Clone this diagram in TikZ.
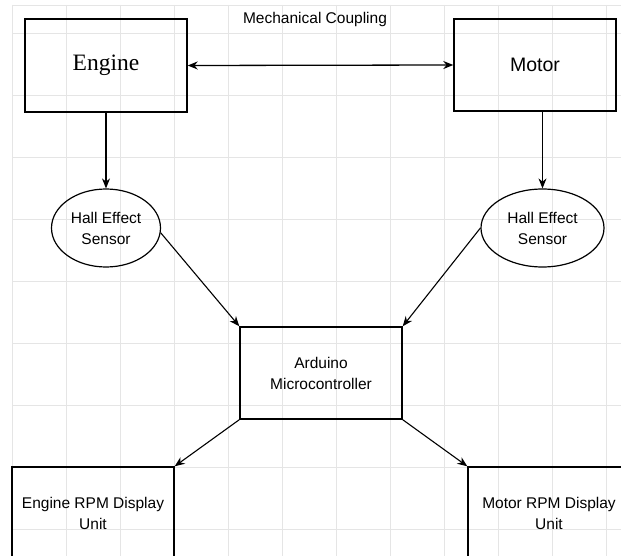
\documentclass[tikz,border=0pt]{standalone}
\usepackage{fontspec}
\setmainfont{Liberation Sans}
\newfontfamily\serifnf{Liberation Serif}
\usetikzlibrary{arrows.meta,shapes.geometric}
\begin{document}
\begin{tikzpicture}[x=1pt,y=-1pt,
  box/.style={draw=black,line width=1.4pt,minimum width=162pt,minimum height=93pt,inner sep=0pt,align=center,font=\fontsize{15.5}{21}\selectfont},
  sensor/.style={ellipse,draw=black,line width=1.2pt,minimum height=78pt,inner sep=0pt,align=center,font=\fontsize{15.5}{21}\selectfont},
  conn/.style={draw=black,line width=1.1pt,-{Stealth[length=10pt,width=8pt]}},
  biconn/.style={draw=black,line width=1.3pt,{Stealth[length=10pt,width=8pt]}-{Stealth[length=10pt,width=8pt]}},
  gridline/.style={draw=black!10,line width=0.8pt}]
\useasboundingbox (0,0) rectangle (621,556);
\fill[white] (0,0) rectangle (621,556);
\foreach \x in {12,66,...,606} \draw[gridline] (\x,5) -- (\x,556);
\foreach \y in {33,95,...,529} \draw[gridline] (12,\y) -- (621,\y);
\draw[gridline] (12,5) -- (621,5);

\node[box,font=\serifnf\fontsize{23.5}{27}\selectfont] (engine) at (106,65.5) {Engine};
\node[box,font=\fontsize{19.5}{24}\selectfont,minimum height=92pt] (motor) at (535,65) {Motor};
\node[font=\fontsize{15.5}{19}\selectfont] (mc) at (315,19) {Mechanical Coupling};
\node[sensor,minimum width=109pt] (hs1) at (106,228) {Hall Effect\\Sensor};
\node[sensor,minimum width=123pt] (hs2) at (542.5,228) {Hall Effect\\Sensor};
\node[box,minimum height=92pt] (ard) at (321,373) {Arduino\\Microcontroller};
\node[box] (erpm) at (93,513.5) {Engine RPM Display\\Unit};
\node[box] (mrpm) at (549,513.5) {Motor RPM Display\\Unit};

\draw[biconn] (engine.east) -- (motor.west);
\draw[conn,line width=1.3pt] (engine.south) -- (hs1.north);
\draw[conn,line width=1.3pt] (motor.south -| hs2.north) -- (hs2.north);
\draw[conn] (hs1.-5) -- (ard.north west);
\draw[conn] (hs2.west) -- (ard.north east);
\draw[conn] (ard.south west) -- (erpm.north east);
\draw[conn] (ard.south east) -- (mrpm.north west);
\end{tikzpicture}
\end{document}
